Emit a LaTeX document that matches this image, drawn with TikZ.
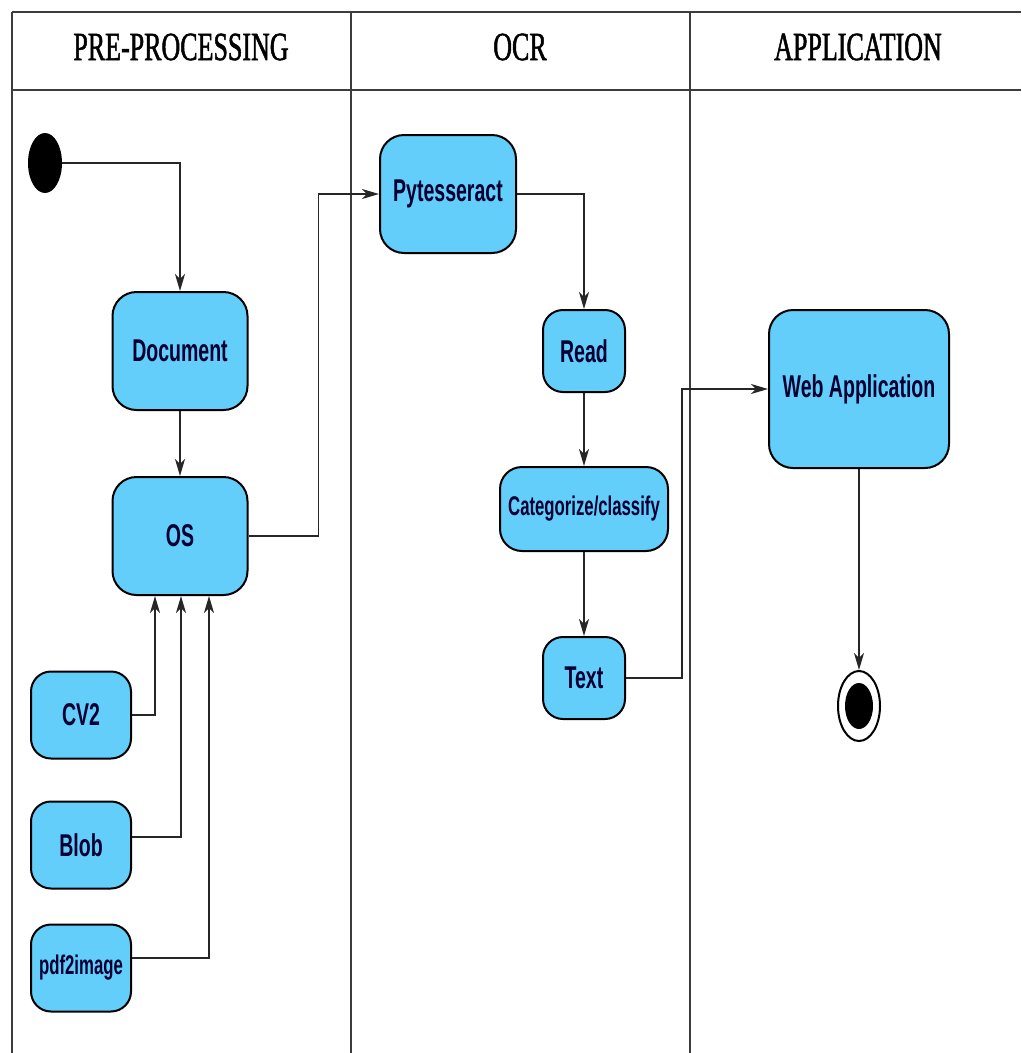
\documentclass[tikz,border=0pt]{standalone}
\usepackage{fontspec}
\newfontfamily\boxfont{Liberation Sans}[FakeStretch=0.62]
\newfontfamily\headfont{Liberation Serif}[FakeStretch=0.65,FakeBold=1.2]
\usetikzlibrary{arrows.meta,shapes.geometric}

\definecolor{actblue}{RGB}{99,206,250}
\definecolor{lanegray}{RGB}{60,60,60}

\begin{document}
\begin{tikzpicture}[x=1pt,y=-1pt,
    lane/.style={draw=lanegray,line width=1.5pt},
    head/.style={font=\headfont\fontsize{40}{42}\selectfont},
    act/.style={draw=black,line width=2pt,fill=actblue,rounded corners=24pt,
      inner sep=0pt,align=center,text=black!80!blue,
      font=\boxfont\bfseries\fontsize{31.5}{34}\selectfont},
    flow/.style={draw=black!85,line width=1.6pt,
      -{Stealth[length=17pt,width=10pt,inset=5pt]}}]
  \useasboundingbox (0,0) rectangle (1021,1053);

  % Lanes
  \def\ytop{12}\def\yhead{90}\def\ybot{1053}
  \def\lanea{12}\def\laneb{351}\def\lanec{690}
  \draw[lane,line width=2.5pt] (\lanea,\ytop) -- (1021,\ytop);
  \draw[lane,line width=2.5pt] (\lanea,\yhead) -- (1021,\yhead);
  \foreach \xl in {\lanea,\laneb,\lanec}
    \draw[lane] (\xl,\ytop) -- (\xl,\ybot);
  \node[head] (hpre) at (181,47) {PRE-PROCESSING};
  \node[head] (hocr) at (520,47) {OCR};
  \node[head] (happ) at (858,47) {APPLICATION};

  % Start and end
  \node[ellipse,fill=black,minimum width=34pt,minimum height=60pt,inner sep=0pt] (start) at (45,163) {};
  \node[ellipse,draw=black,line width=2pt,fill=white,minimum width=42pt,minimum height=70pt,inner sep=0pt] (stop) at (859,706) {};
  \node[ellipse,fill=black,minimum width=28pt,minimum height=46pt,inner sep=0pt] (stopdot) at (stop) {};

  % Pre-processing
  \node[act,minimum width=135pt,minimum height=118pt] (doc) at (180,351) {Document};
  \node[act,minimum width=135pt,minimum height=118pt] (os) at (180,536) {OS};
  \node[act,minimum width=100pt,minimum height=87pt,rounded corners=20pt] (cv) at (81,715) {CV2};
  \node[act,minimum width=100pt,minimum height=87pt,rounded corners=20pt] (blob) at (81,845) {Blob};
  \node[act,minimum width=100pt,minimum height=87pt,rounded corners=20pt,
    font=\boxfont\bfseries\fontsize{27}{30}\selectfont] (pdf) at (81,968) {pdf2image};

  % OCR
  \node[act,minimum width=136pt,minimum height=118pt] (pyt) at (448,194) {Pytesseract};
  \node[act,minimum width=82pt,minimum height=82pt,rounded corners=20pt] (read) at (584,351) {Read};
  \node[act,minimum width=168pt,minimum height=84pt,rounded corners=22pt,
    font=\boxfont\bfseries\fontsize{27}{30}\selectfont] (cat) at (584,509) {Categorize/classify};
  \node[act,minimum width=82pt,minimum height=82pt,rounded corners=20pt] (txt) at (584,678) {Text};

  % Application
  \node[act,minimum width=180pt,minimum height=158pt] (web) at (859,389) {Web Application};

  % Flows
  \draw[flow] (start.east) -| (doc.north);
  \draw[flow] (doc) -- (os);
  \draw[flow] (os.east) -- ++(70,0) |- (pyt.west);
  \draw[flow] (pyt.east) -| (read.north);
  \draw[flow] (read) -- (cat);
  \draw[flow] (cat) -- (txt);
  \draw[flow] (txt.east) -- ++(56,0) |- (web.west);
  \draw[flow] (web) -- (stop);
  \draw[flow] (cv.east) -| ([xshift=-25pt]os.south);
  \draw[flow] ([yshift=8pt]blob.east) -| ([xshift=1pt]os.south);
  \draw[flow] ([yshift=10pt]pdf.east) -| ([xshift=29pt]os.south);

\end{tikzpicture}
\end{document}
